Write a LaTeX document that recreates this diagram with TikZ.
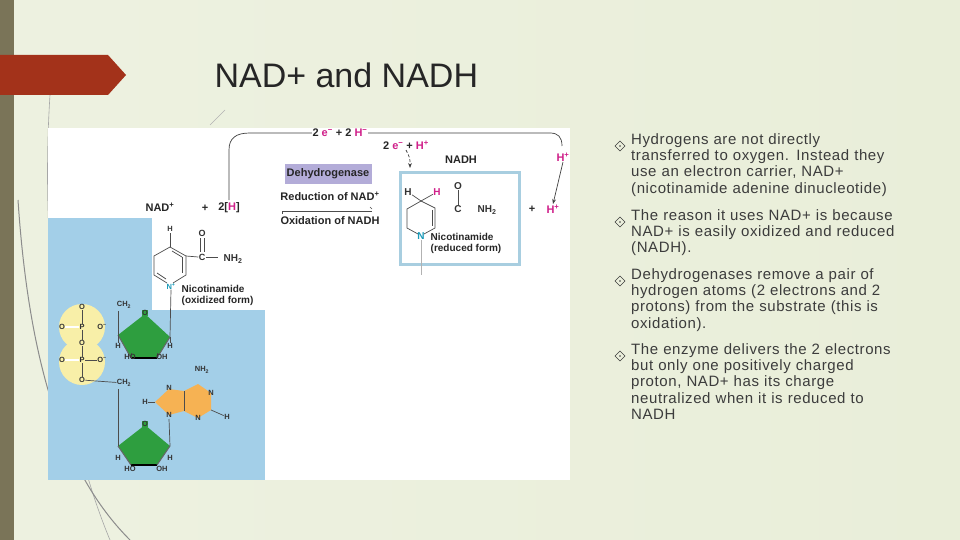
\documentclass[tikz,border=0pt]{standalone}
\usepackage{fontspec}
\setmainfont{Liberation Sans}
\newfontfamily\bulfont[LetterSpace=4]{Liberation Sans}
\usetikzlibrary{arrows.meta}
\definecolor{bg}{HTML}{E9EED9}
\definecolor{bar}{HTML}{7A7458}
\definecolor{redar}{HTML}{A3321A}
\definecolor{fblue}{HTML}{A3CFE8}
\definecolor{bbox}{HTML}{A8CEE0}
\definecolor{purp}{HTML}{B3ACD8}
\definecolor{mag}{HTML}{D0208A}
\definecolor{cyanN}{HTML}{1A9AB8}
\definecolor{grn}{HTML}{2E9E3F}
\definecolor{ylw}{HTML}{F8EFA8}
\definecolor{org}{HTML}{F6B253}
\definecolor{txt}{HTML}{3C3C3C}
\begin{document}
\begin{tikzpicture}[x=1pt,y=-1pt,
  lab/.style={font=\fontsize{11}{12}\selectfont\bfseries,text=black!85,inner sep=0.5pt},
  sm/.style={font=\fontsize{7.5}{8}\selectfont\bfseries,text=black!80,inner sep=0.3pt},
  bond/.style={black!70,line width=0.7pt},
  bul/.style={font=\bulfont\fontsize{15}{16.4}\selectfont,text=txt,align=left,text width=272pt,anchor=north west,inner sep=0pt},
  conn/.style={black!75,line width=0.7pt}]
\useasboundingbox (0,0) rectangle (960,540);
\shade[left color=bg!80!white,right color=bg] (0,0) rectangle (960,540);
\fill[bar] (0,0) rectangle (14,540);
\draw[black!35,line width=0.6pt] (50,95) .. controls (40,250) and (60,420) .. (110,540);
\draw[black!45,line width=1pt] (18,200) .. controls (30,380) and (70,480) .. (130,540);
\draw[black!30,line width=0.6pt] (210,125) -- (225,110);
\fill[redar] (0,55) -- (108,55) -- (126,75) -- (108,95) -- (0,95) -- cycle;
\node[anchor=west,font=\fontsize{34}{36}\selectfont,text=black!85] (title) at (211,75) {NAD+ and NADH};
% figure
\fill[white] (48,128) rectangle (570,480);
\fill[fblue] (48,218) rectangle (265,480);
\fill[white] (152,218) rectangle (265,310);
\draw[bbox,line width=3pt] (400,173) rectangle (519,264);
\fill[purp] (285,164) rectangle (372,184);
\node[lab] (dh) at (328,174) {Dehydrogenase};
\node[lab] (red) at (330,196) {Reduction of NAD\textsuperscript{+}};
\node[lab] (ox) at (330,221) {Oxidation of NADH};
\draw[black!70,line width=0.6pt] (282,211) -- (372,211);
\draw[black!70,line width=0.6pt] (370,207) -- (372,209);
\draw[black!70,line width=0.6pt] (282,211) -- (282,214);
\node[lab] (nadp) at (160,207) {NAD\textsuperscript{+}};
\node[lab] (plus1) at (205,208) {+};
\node[lab] (twoH) at (229,208) {2[\textcolor{mag}{H}]};
\node[lab] (top) at (340,133) {2 \textcolor{mag}{e\textsuperscript{−}} + 2 \textcolor{mag}{H\textsuperscript{−}}};
\node[lab] (mid) at (406,145) {2 \textcolor{mag}{e\textsuperscript{−}} + \textcolor{mag}{H\textsuperscript{+}}};
\node[lab] (nadh) at (461,160) {NADH};
\node[lab,text=mag] (hp1) at (563,157) {H\textsuperscript{+}};
\node[lab] (plus2) at (532,209) {+};
\node[lab,text=mag] (hp2) at (553,209) {H\textsuperscript{+}};
\coordinate (c1) at (229,200);
\draw[conn] (c1) -- (229,150) .. controls (229,138) and (236,133) .. (250,133) -- (top.west);
\draw[conn] (top.east) -- (550,133) .. controls (558,133) and (562,137) .. (562,146);
\draw[conn,-{Stealth[length=5pt]}] (hp1.south) -- (hp2.north);
\draw[conn,densely dashed,-{Stealth[length=5pt]}] (mid.south) .. controls (410,158) .. (410,168);
% oxidized nicotinamide
\node[sm] (Ho) at (170,229) {H};
\draw[bond] (170,233) -- (170,247);
\draw[bond] (170,247) -- (186,256) -- (186,275) -- (173,283);
\draw[bond] (167,283) -- (154,275) -- (154,256) -- (170,247);
\draw[bond] (172,251) -- (182,257);
\draw[bond] (182,257) -- (182,273);
\draw[bond] (157,273) -- (166,279);
\node[sm,text=cyanN] (Nox) at (171,286) {N\textsuperscript{+}};
\node[sm,font=\fontsize{9}{10}\selectfont\bfseries] (Co) at (202,257) {C};
\node[sm,font=\fontsize{9}{10}\selectfont\bfseries] (Oo) at (202,233) {O};
\draw[bond] (200,238) -- (200,252); \draw[bond] (204,238) -- (204,252);
\draw[bond] (186,256) -- (Co.west);
\draw[bond] (Co.east) -- (218,257);
\node[sm,font=\fontsize{10}{11}\selectfont\bfseries] (nh2o) at (233,259) {NH\textsubscript{2}};
\node[lab,font=\fontsize{10}{11}\selectfont\bfseries,align=left,anchor=north west] (nicox) at (181,285) {Nicotinamide\\(oxidized form)};
% phosphate
\fill[ylw] (82,327) circle (23); \fill[ylw] (82,362) circle (23);
\node[sm] (Op1) at (82,307) {O};
\node[sm] (P1) at (82,327) {P};
\node[sm] (Ol1) at (62,327) {O};
\node[sm] (Om1) at (102,327) {O\textsuperscript{−}};
\node[sm] (Ob) at (82,343) {O};
\node[sm] (P2) at (82,360) {P};
\node[sm] (Ol2) at (62,360) {O};
\node[sm] (Om2) at (102,360) {O\textsuperscript{−}};
\node[sm] (Oc) at (82,380) {O};
\draw[bond] (Op1) -- (P1); \draw[bond] (P1) -- (Ob); \draw[bond] (Ob) -- (P2); \draw[bond] (P2) -- (Oc);
\draw[bond,double,double distance=1.2pt] (Ol1) -- (P1); \draw[bond,double,double distance=1.2pt] (Ol2) -- (P2);
\draw[bond] (P2) -- (Om2);
\node[sm] (ch2a) at (124,305) {CH\textsubscript{2}};
\node[sm] (ch2b) at (124,383) {CH\textsubscript{2}};
\draw[bond] (Oc) -- (ch2b);
% ribose 1
\fill[grn] (145,314) -- (170,337) -- (157,358) -- (131,358) -- (118,335) -- cycle;
\draw[black,line width=2.5pt] (157,358) -- (131,358);
\draw[black!60,line width=1pt] (170,337) -- (157,358) (118,335) -- (131,358);
\node[sm,fill=grn,inner sep=0.5pt] (Or1) at (145,313) {O};
\draw[bond] (118,311) -- (118,335);
\draw[bond] (Nox.south) -- (170,337);
\draw[bond] (118,335) -- (118,343); \draw[bond] (170,337) -- (170,343);
\node[sm] at (118,346) {H}; \node[sm] at (170,346) {H};
\draw[bond] (131,358) -- (131,353); \draw[bond] (157,358) -- (157,353);
\node[sm] at (130,357) {HO}; \node[sm] at (162,357) {OH};
% adenine
\fill[org] (169,389) -- (184,391) -- (198,384) -- (211,393) -- (211,410) -- (198,418) -- (184,411) -- (169,415) -- (155,402) -- cycle;
\draw[bond] (184,391) -- (184,411);
\node[sm] at (169,388) {N}; \node[sm] at (169,415) {N};
\node[sm] at (211,393) {N}; \node[sm] at (198,418) {N};
\node[sm] at (202,370) {NH\textsubscript{2}};
\node[sm] (ha) at (145,402) {H}; \draw[bond] (ha) -- (155,402);
\node[sm] (hb) at (227,417) {H}; \draw[bond] (hb) -- (211,410);
% ribose 2
\fill[grn] (145,425) -- (170,446) -- (157,465) -- (131,465) -- (118,446) -- cycle;
\draw[black,line width=2.5pt] (157,465) -- (131,465);
\draw[black!60,line width=1pt] (170,446) -- (157,465) (118,446) -- (131,465);
\node[sm,fill=grn,inner sep=0.5pt] at (145,424) {O};
\draw[bond] (118,389) -- (118,446);
\draw[bond] (169,419) -- (170,446);
\node[sm] at (118,458) {H}; \node[sm] at (170,458) {H};
\node[sm] at (130,469) {HO}; \node[sm] at (162,469) {OH};
% reduced nicotinamide
\node[sm,font=\fontsize{10}{10}\selectfont\bfseries] (Hr1) at (408,192) {H};
\node[sm,font=\fontsize{10}{10}\selectfont\bfseries,text=mag] (Hr2) at (437,192) {H};
\draw[bond] (Hr1) -- (421,201) -- (Hr2);
\draw[bond] (421,201) -- (435,208) -- (435,228) -- (424,234);
\draw[bond] (418,234) -- (407,228) -- (407,209) -- (421,201);
\draw[bond] (432,210) -- (432,226);
\node[sm,font=\fontsize{10}{10}\selectfont\bfseries,text=cyanN] (Nr) at (421,236) {N};
\node[sm,font=\fontsize{10}{10}\selectfont\bfseries] (Cr) at (458,209) {C};
\node[sm,font=\fontsize{10}{10}\selectfont\bfseries] (Or) at (458,186) {O};
\draw[bond] (Or) -- (Cr);
\node[sm,font=\fontsize{10}{10}\selectfont\bfseries] (nh2r) at (487,210) {NH\textsubscript{2}};
\node[lab,font=\fontsize{10}{11}\selectfont\bfseries,align=left,anchor=north west] (nicr) at (430,233) {Nicotinamide\\(reduced form)};
\draw[black!30,line width=0.5pt] (Nr.south) -- (421,275);
% bullets
\foreach \y in {140,216,275,350}{
  \draw[txt,line width=0.6pt] (620,\y+1) -- (625,\y+6) -- (620,\y+11) -- (615,\y+6) -- cycle;
  \fill[txt] (620,\y+6) circle (0.8);
}
\tikzset{bul/.append style={execute at begin node={\raggedright\hyphenpenalty=10000\exhyphenpenalty=10000}}}
\node[bul] (b1) at (631,133) {Hydrogens are not directly transferred to oxygen. Instead they use an electron carrier, NAD+ (nicotinamide adenine dinucleotide)};
\node[bul] (b2) at (631,209) {The reason it uses NAD+ is because NAD+ is easily oxidized and reduced (NADH).};
\node[bul] (b3) at (631,268) {Dehydrogenases remove a pair of hydrogen atoms (2 electrons and 2 protons) from the substrate (this is oxidation).};
\node[bul] (b4) at (631,343) {The enzyme delivers the 2 electrons but only one positively charged proton, NAD+ has its charge neutralized when it is reduced to NADH};
\end{tikzpicture}
\end{document}
